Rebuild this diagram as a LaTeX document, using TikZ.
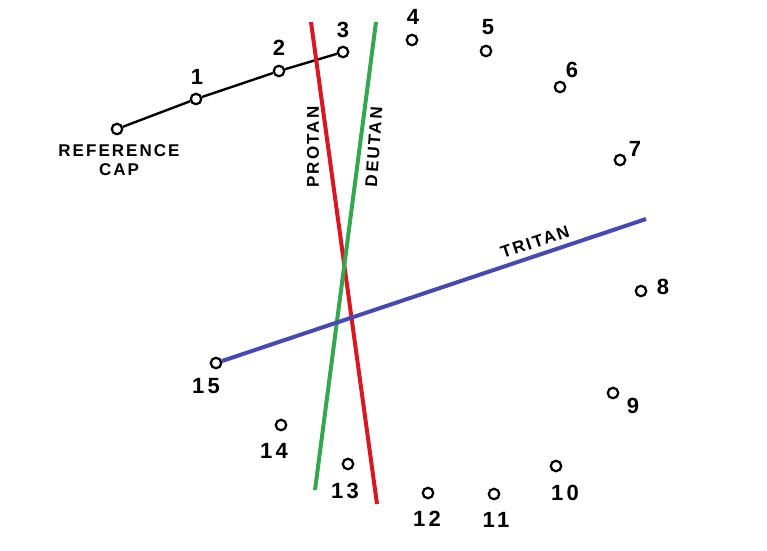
\documentclass[tikz,border=0pt]{standalone}
\usepackage{fontspec}
\setmainfont{Liberation Sans}
\newfontfamily\capfont[LetterSpace=12]{Liberation Sans}
\newfontfamily\numfont[LetterSpace=16]{Liberation Sans}
\usepackage{tikz}
\definecolor{ProtanRed}{RGB}{218,22,34}
\definecolor{DeutanGreen}{RGB}{52,168,78}
\definecolor{TritanBlue}{RGB}{72,72,178}

\begin{document}
\begin{tikzpicture}[x=1pt,y=-1pt,capring/.style={circle,draw,line width=2.2pt,inner sep=0pt,minimum size=10.5pt},num/.style={font=\numfont\fontsize{22}{22}\selectfont\bfseries,inner sep=0pt},lbl/.style={font=\capfont\fontsize{17}{19}\selectfont\bfseries,inner sep=0pt},axis/.style={line width=4pt}]
\useasboundingbox (0,0) rectangle (767,550);
% caps with their numbers
\node[capring] (ref) at (117,129) {};
\node[lbl,align=center] (reflbl) at (119,160) {REFERENCE\\CAP};
\foreach \n/\x/\y/\lx/\ly in %
{1/196/99/197/77,2/279/71/279/48,3/343/52/343/30,4/412/40/413/17,5/486/51/488/27,%
6/560/87/572/70,7/620/160/635/149,8/641/291/663/287,9/613/393/633/406,10/556/466/565/493,%
11/494/494/496/520,12/428/493/427/519,13/348/464/345/491,14/281/425/274/451,15/216/363/206/386} {
   \node[capring] (c\n) at (\x,\y) {};
   \node[num] (n\n) at (\lx,\ly) {\n};
}
\draw[line width=2.4pt] (ref) -- (c1) -- (c2) -- (c3);
% confusion axes
\coordinate (p1) at (311,22);
\coordinate (p2) at (377,504);
\coordinate (d1) at (376,22);
\coordinate (d2) at (315,490);
\coordinate (t2) at (646,219);
\draw[axis,ProtanRed] (p1) -- (p2);
\draw[axis,DeutanGreen] (d1) -- (d2);
\draw[axis,TritanBlue] (c15) -- (t2);
\node[lbl,rotate=90] (protan) at (313,147) {PROTAN};
\node[lbl,rotate=86] (deutan) at (374,147) {DEUTAN};
\node[lbl,rotate=18.6] (tritan) at (535,242) {TRITAN};
\end{tikzpicture}
\end{document}
